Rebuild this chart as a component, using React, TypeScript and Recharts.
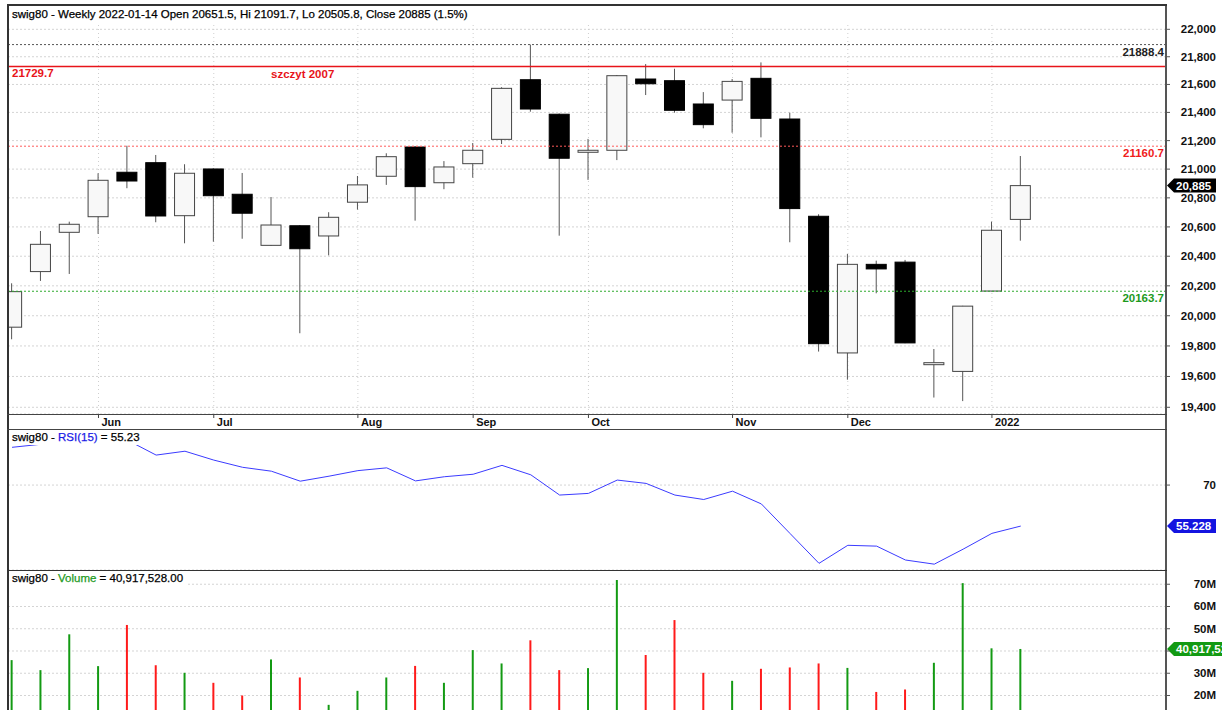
import {
  Bar,
  BarChart,
  CartesianGrid,
  Cell,
  ComposedChart,
  Line,
  LineChart,
  ReferenceLine,
  XAxis,
  YAxis,
} from 'recharts';

const FONT = '"Liberation Sans", Arial, sans-serif';

// weekly candles, 2021-05-14 .. 2022-01-14
const opens = [19924, 20296, 20563, 20670, 20978, 21045, 20677, 21001, 20825, 20474, 20608, 20538, 20770, 20950, 21155, 20905, 21038, 21209, 21634, 21387, 21128, 21132, 21639, 21627, 21460, 21488, 21644, 21353, 20673, 19754, 20345, 20360, 19686, 19633, 20165, 20651.5];
const highs = [20217, 20572, 20636, 20971, 21164, 21099, 21034, 21005, 20973, 20806, 20612, 20701, 20952, 21111, 21160, 21056, 21183, 21580, 21888.4, 21392, 21212, 21668, 21747, 21713, 21545, 21639, 21759, 21398, 20687, 20415, 20370, 20375, 19780, 20066, 20636, 21091.7];
const lows = [19844, 20233, 20280, 20552, 20867, 20632, 20488, 20499, 20519, 20470, 19884, 20406, 20719, 20890, 20643, 20860, 20940, 21176, 21405, 20540, 20925, 21063, 21524, 21398, 21287, 21256, 21223, 20495, 19763, 19579, 20150, 19818, 19463, 19440, 20163, 20505.8];
const closes = [20161, 20481, 20618, 20922, 20917, 20675, 20971, 20815, 20694, 20613, 20451, 20666, 20890, 21087, 20878, 21015, 21132, 21572, 21424, 21076, 21132, 21663, 21605, 21415, 21313, 21622, 21358, 20726, 19815, 20345, 20314, 19820, 19690, 20064, 20577, 20885];
const rsi = [83.6, 84.7, 85.3, 86.5, 86.2, 80.8, 82.2, 79.0, 76.4, 75.0, 71.4, 73.2, 75.2, 76.2, 71.5, 73.0, 73.9, 77.1, 73.7, 66.4, 67.0, 71.8, 70.6, 66.4, 64.8, 67.8, 63.2, 52.5, 41.8, 48.3, 48.0, 43.0, 41.5, 46.9, 52.6, 55.228];
// volume in millions
const volumes = [35.9, 31.4, 47.5, 33.2, 51.7, 33.6, 30.2, 25.7, 20.0, 36.2, 28.1, 15.8, 22.1, 28.1, 33.3, 25.7, 40.4, 34.4, 44.8, 31.4, 32.3, 71.9, 38.2, 53.9, 30.2, 26.6, 32.0, 32.6, 34.4, 32.4, 21.6, 22.7, 34.7, 70.5, 41.2, 40.917528];

const monthTicks = [3, 7, 12, 16, 20, 25, 29, 34];
const monthLabels = ['Jun', 'Jul', 'Aug', 'Sep', 'Oct', 'Nov', 'Dec', '2022'];
const priceTicks = [19400, 19600, 19800, 20000, 20200, 20400, 20600, 20800, 21000, 21200, 21400, 21600, 21800, 22000];
const rsiTicks = [70];
const volTicks = [20, 30, 40, 50, 60, 70];
const volHiddenLabel = 40; // covered by the last-value tag

const xDomain = [-0.14, 40.04];
const priceDomain = [19356.7, 22178.6];
const rsiDomain = [39.4, 90.2];
const volDomain = [0, 76.4];

const data = opens.map((o, i) => ({
  i,
  open: o,
  high: highs[i],
  low: lows[i],
  close: closes[i],
  range: [lows[i], highs[i]],
  rsi: rsi[i],
  vol: volumes[i],
}));

function Candle(props: any) {
  const { x, y, width, height, payload } = props;
  if (x == null || y == null || height == null) return null;
  const top = Math.min(y, y + height);
  const bot = Math.max(y, y + height);
  const { open, close, high, low } = payload;
  const span = Math.log(high) - Math.log(low);
  const toY = (p: number) => top + (span > 0 ? ((Math.log(high) - Math.log(p)) / span) * (bot - top) : 0);
  const yo = toY(open);
  const yc = toY(close);
  const bt = Math.min(yo, yc);
  const bh = Math.max(Math.abs(yo - yc), 2);
  const cx = x + width / 2;
  const up = close >= open;
  return (
    <g>
      <line x1={cx} x2={cx} y1={top} y2={bot} stroke="#555" strokeWidth={1} />
      <rect
        x={cx - 10}
        y={bt}
        width={20}
        height={bh}
        fill={up ? '#f8f8f8' : '#000'}
        stroke={up ? '#444' : '#000'}
        strokeWidth={1}
      />
    </g>
  );
}

function RightTick({ x, y, payload, fmt }: any) {
  return (
    <text x={x + 46} y={y} dy={4} textAnchor="end" fontFamily={FONT} fontSize={11.5} fontWeight="bold" fill="#111">
      {fmt(payload.value)}
    </text>
  );
}

function MonthTick({ x, y, payload }: any) {
  const k = monthTicks.indexOf(payload.value);
  return (
    <text x={x + 3} y={y} dy={8} textAnchor="start" fontFamily={FONT} fontSize={11} fontWeight="bold" fill="#111">
      {monthLabels[k]}
    </text>
  );
}

function LevelText({ viewBox, text, color, side, extra }: any) {
  if (!viewBox) return null;
  const left = side === 'left';
  const x = left ? viewBox.x + 4 : viewBox.x + viewBox.width - 2;
  return (
    <g>
      <text x={x} y={viewBox.y + 11} textAnchor={left ? 'start' : 'end'} fontFamily={FONT} fontSize={11.5} fontWeight="bold" fill={color}>
        {text}
      </text>
      {extra ? (
        <text x={viewBox.x + 263} y={viewBox.y + 12} textAnchor="start" fontFamily={FONT} fontSize={11.5} fontWeight="bold" fill={color}>
          {extra}
        </text>
      ) : null}
    </g>
  );
}

function Tag({ viewBox, text, bg, w }: any) {
  if (!viewBox) return null;
  const x0 = viewBox.x + viewBox.width;
  const y0 = viewBox.y;
  const h = 7;
  const pts = `${x0 + 1},${y0} ${x0 + 8},${y0 - h} ${x0 + w},${y0 - h} ${x0 + w},${y0 + h} ${x0 + 8},${y0 + h}`;
  return (
    <g>
      <polygon points={pts} fill={bg} />
      <text x={x0 + 10} y={y0} dy={4} fontFamily={FONT} fontSize={11.5} fontWeight="bold" fill="#fff">
        {text}
      </text>
    </g>
  );
}

const gridStroke = '#d4d4d4';

// horizontal + vertical dotted grid, both under the series
const grids = () => [
  <CartesianGrid key="gh" vertical={false} stroke={gridStroke} strokeDasharray="2 2" />,
  <CartesianGrid key="gv" horizontal={false} stroke="#cfcfcf" strokeDasharray="1 3" />,
];

const hiddenX = (
  <XAxis
    dataKey="i"
    type="number"
    domain={xDomain}
    allowDataOverflow
    ticks={monthTicks}
    interval={0}
    height={0}
    tick={false}
    tickLine={false}
    axisLine={false}
  />
);

const line = (style: any) => <div style={{ position: 'absolute', background: '#333', ...style }} />;

const titleStyle: any = {
  position: 'absolute',
  left: 9,
  background: '#fff',
  fontSize: 11.5,
  color: '#000',
  whiteSpace: 'nowrap',
  WebkitTextStroke: '0.25px #000',
};

export default function App() {
  return (
    <div style={{ position: 'absolute', left: 0, top: 0, width: 1222, height: 710, overflow: 'hidden', background: '#fff', fontFamily: FONT }}>
      <div style={{ position: 'absolute', left: 0, top: 0 }}>
        <ComposedChart width={1222} height={429} data={data} margin={{ top: 5, right: 0, bottom: 0, left: 8 }}>
          {grids()}
          <XAxis
            dataKey="i"
            type="number"
            domain={xDomain}
            allowDataOverflow
            ticks={monthTicks}
            interval={0}
            height={15}
            axisLine={false}
            tickLine={{ stroke: '#444' }}
            tickSize={4}
            tickMargin={0}
            tick={<MonthTick />}
          />
          <YAxis
            orientation="right"
            scale="log"
            domain={priceDomain}
            allowDataOverflow
            ticks={priceTicks}
            interval={0}
            width={56}
            axisLine={false}
            tickLine={{ stroke: '#555' }}
            tickSize={4}
            tickMargin={0}
            tick={<RightTick fmt={(v: number) => v.toLocaleString('en-US')} />}
          />
          <ReferenceLine y={21888.4} stroke="#555" strokeDasharray="2 2" label={<LevelText text="21888.4" color="#222" side="right" />} />
          <ReferenceLine y={21729.7} stroke="#e8141a" strokeWidth={1.5} label={<LevelText text="21729.7" color="#e8141a" side="left" extra="szczyt 2007" />} />
          <ReferenceLine y={21160.7} stroke="#ff5a5a" strokeDasharray="2 2" label={<LevelText text="21160.7" color="#f01c1c" side="right" />} />
          <ReferenceLine y={20163.7} stroke="#2eaa2e" strokeDasharray="2 2" label={<LevelText text="20163.7" color="#1c9a1c" side="right" />} />
          <Bar dataKey="range" barSize={20} shape={<Candle />} isAnimationActive={false} />
          <ReferenceLine y={20885} stroke="none" label={<Tag text="20,885" bg="#000" w={50} />} />
        </ComposedChart>
      </div>

      <div style={{ position: 'absolute', left: 0, top: 429 }}>
        <LineChart width={1222} height={141} data={data} margin={{ top: 0, right: 0, bottom: 0, left: 8 }}>
          {grids()}
          {hiddenX}
          <YAxis
            orientation="right"
            domain={rsiDomain}
            allowDataOverflow
            ticks={rsiTicks}
            interval={0}
            width={56}
            axisLine={false}
            tickLine={{ stroke: '#555' }}
            tickSize={4}
            tickMargin={0}
            tick={<RightTick fmt={(v: number) => String(v)} />}
          />
          <Line dataKey="rsi" stroke="#3b3bff" strokeWidth={1} dot={false} isAnimationActive={false} />
          <ReferenceLine y={55.228} stroke="none" label={<Tag text="55.228" bg="#1414e0" w={50} />} />
        </LineChart>
      </div>

      <div style={{ position: 'absolute', left: 0, top: 570 }}>
        <BarChart width={1222} height={170} data={data} margin={{ top: 0, right: 0, bottom: 0, left: 8 }}>
          {grids()}
          {hiddenX}
          <YAxis
            orientation="right"
            domain={volDomain}
            allowDataOverflow
            ticks={volTicks}
            interval={0}
            width={56}
            axisLine={false}
            tickLine={{ stroke: '#555' }}
            tickSize={4}
            tickMargin={0}
            tick={<RightTick fmt={(v: number) => (v === volHiddenLabel ? '' : `${v}M`)} />}
          />
          <Bar dataKey="vol" barSize={2} isAnimationActive={false}>
            {data.map((d) => (
              <Cell key={d.i} fill={d.close >= d.open ? '#139a13' : '#ff1a1a'} />
            ))}
          </Bar>
          <ReferenceLine y={40.917528} stroke="none" label={<Tag text="40,917,528" bg="#139a13" w={70} />} />
        </BarChart>
      </div>

      {/* pane titles */}
      <div style={{ ...titleStyle, top: 6, width: 1156, height: 17, lineHeight: '17px', paddingLeft: 3, boxSizing: 'border-box' }}>
        swig80 - Weekly 2022-01-14 Open 20651.5, Hi 21091.7, Lo 20505.8, Close 20885 (1.5%)
      </div>
      <div style={{ ...titleStyle, top: 430, height: 15, lineHeight: '15px', padding: '0 3px' }}>
        swig80 - <span style={{ color: '#1a1ae6', WebkitTextStroke: '0.25px #1a1ae6' }}>RSI(15)</span> = 55.23
      </div>
      <div style={{ ...titleStyle, top: 571, height: 15, lineHeight: '15px', padding: '0 3px' }}>
        swig80 - <span style={{ color: '#1c9a1c', WebkitTextStroke: '0.25px #1c9a1c' }}>Volume</span> = 40,917,528.00
      </div>

      {/* frame */}
      {line({ left: 7, top: 5, width: 2, height: 705 })}
      {line({ left: 1165, top: 5, width: 1.5, height: 705, background: '#555' })}
      {line({ left: 7, top: 4, width: 1160, height: 1.5 })}
      {line({ left: 7, top: 413.5, width: 1160, height: 1.5, background: '#444' })}
      {line({ left: 7, top: 428.5, width: 1160, height: 1.5, background: '#444' })}
      {line({ left: 7, top: 569.5, width: 1160, height: 1.5 })}
    </div>
  );
}
